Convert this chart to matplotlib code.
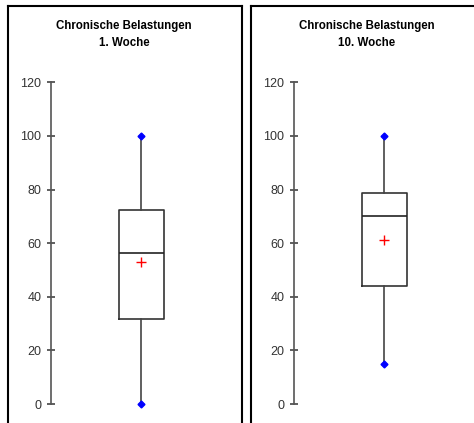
import matplotlib.pyplot as plt
from matplotlib.lines import Line2D

# Kennwerte der beiden Boxplots
titles = ["Chronische Belastungen\n1. Woche", "Chronische Belastungen\n10. Woche"]
minimum = [0, 15]
q1 = [31.8, 44.0]
median = [56.3, 70.3]
q3 = [72.5, 78.8]
maximum = [100, 100]
mean = [52.8, 61.3]
yticks = [0, 20, 40, 60, 80, 100, 120]

W, H = 474, 423
fig = plt.figure(figsize=(W / 100, H / 100), dpi=100)
fig.patch.set_facecolor("white")
plt.rcParams["font.family"] = ["Liberation Sans", "DejaVu Sans"]

# Rahmen der beiden Panels (ohne Unterkante)
def frame(x0, x1, y0):
    kw = dict(color="black", lw=1.5, transform=fig.transFigure)
    fig.add_artist(Line2D([x0 / W, x0 / W], [0, 1 - y0 / H], **kw))
    fig.add_artist(Line2D([x0 / W, x1 / W], [1 - y0 / H, 1 - y0 / H], **kw))
    if x1 < W:
        fig.add_artist(Line2D([x1 / W, x1 / W], [0, 1 - y0 / H], **kw))

frame(8, 241.5, 6)
frame(250.5, W + 5, 6)

axis_x = [51, 294]
title_x = [124, 367]
y_bottom, y_top = 404, 82.4
ax_w = 180

for i in range(2):
    ax = fig.add_axes([axis_x[i] / W, (H - y_bottom) / H, ax_w / W, (y_bottom - y_top) / H])
    ax.set_facecolor("none")
    stats = [dict(med=median[i], q1=q1[i], q3=q3[i], whislo=minimum[i],
                  whishi=maximum[i], mean=mean[i], fliers=[])]
    ax.bxp(stats, positions=[1], widths=0.5, showcaps=False, showmeans=True,
           boxprops=dict(color="#333333", lw=1.2),
           whiskerprops=dict(color="#444444", lw=1.2),
           medianprops=dict(color="#222222", lw=1.2),
           meanprops=dict(marker="+", markeredgecolor="red", markersize=6.5, markeredgewidth=1))
    ax.plot([1, 1], [minimum[i], maximum[i]], linestyle="none", marker="D",
            color="blue", markersize=3.5, clip_on=False)
    ax.set_xlim(0, 2)
    ax.set_ylim(0, 120)
    ax.set_yticks(yticks)
    ax.set_xticks([])
    for s in ["top", "right", "bottom"]:
        ax.spines[s].set_visible(False)
    ax.spines["left"].set_color("#555555")
    ax.spines["left"].set_linewidth(1.2)
    ax.tick_params(axis="y", direction="inout", length=6, width=1.2, color="#444444",
                   labelsize=9, labelcolor="#333333", pad=4)
    fig.text(title_x[i] / W, 1 - 34.5 / H, titles[i], ha="center", va="center",
             fontsize=8.3, fontweight="bold", linespacing=1.45)

fig.savefig("out.png", dpi=100)
